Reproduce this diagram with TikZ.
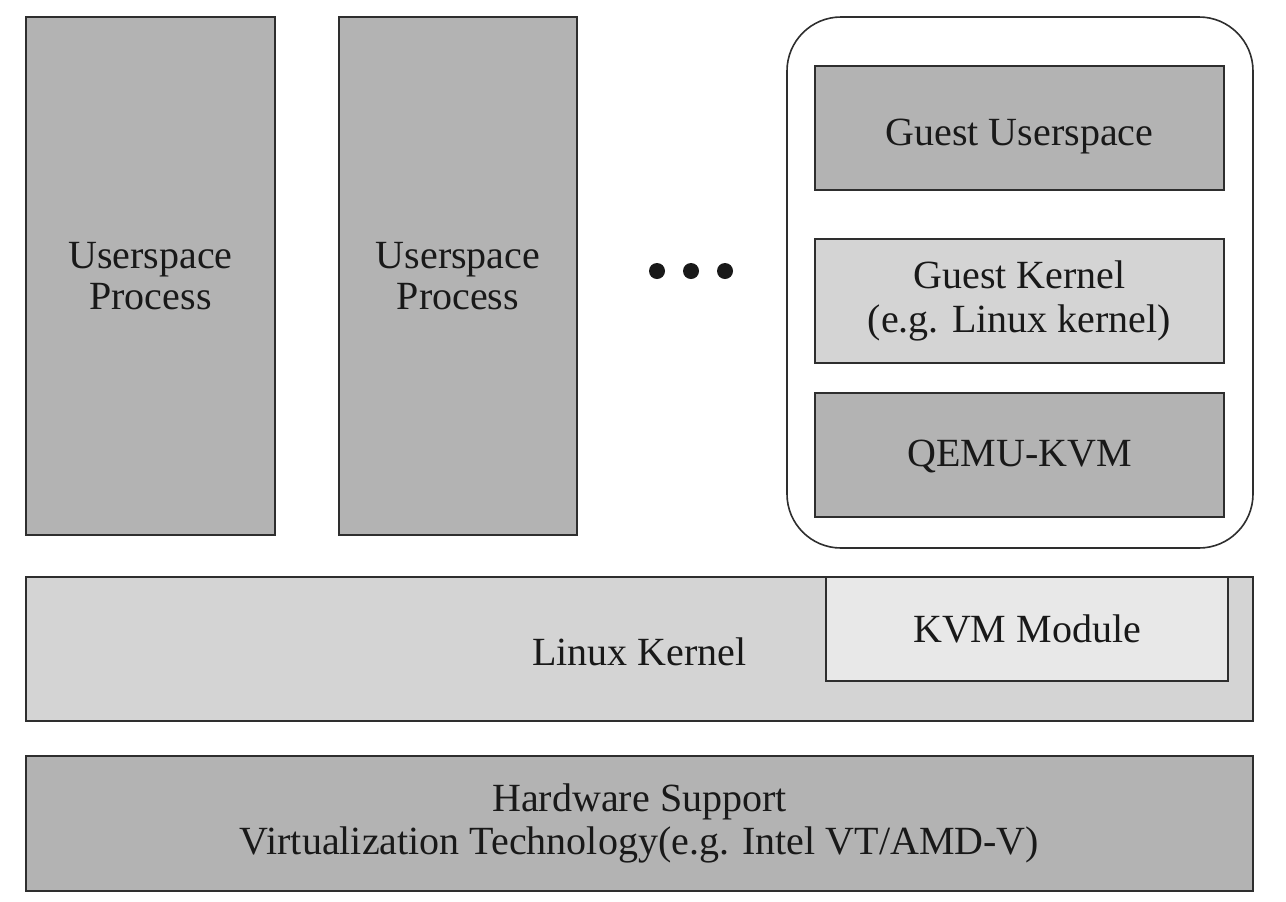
\documentclass[tikz,border=0pt]{standalone}
\usepackage{fontspec}
\setmainfont{Liberation Serif}
\definecolor{darkfill}{HTML}{B3B3B3}
\definecolor{midfill}{HTML}{D4D4D4}
\definecolor{lightfill}{HTML}{E8E8E8}
\definecolor{edge}{HTML}{2E2E2E}
\tikzset{
  box/.style={draw=edge, line width=1pt, inner sep=0pt, align=center,
    font=\fontsize{20}{20.5}\selectfont, text=black!90},
  darkbox/.style={box, fill=darkfill},
  midbox/.style={box, fill=midfill},
  lightbox/.style={box, fill=lightfill},
  vmframe/.style={draw=edge, line width=0.8pt, rounded corners=27pt, inner sep=0pt},
  dotmark/.style={circle, fill=black!90, inner sep=0pt, minimum size=8pt}
}
\begin{document}
\begin{tikzpicture}[x=0.5pt,y=-0.5pt]
\useasboundingbox (0,0) rectangle (1286,901);
\fill[white] (0,0) rectangle (1286,901);
% userspace processes
\node[darkbox, minimum width=124.5pt, minimum height=259pt] (up1) at (150.5,276) {Userspace\\Process};
\node[darkbox, minimum width=119pt, minimum height=259pt] (up2) at (458,276) {Userspace\\Process};
% dots
\node[dotmark] (d1) at (657,271) {};
\node[dotmark] (d2) at (691,271) {};
\node[dotmark] (d3) at (725,271) {};
% VM frame
\node[vmframe, minimum width=233pt, minimum height=265.5pt] (vm) at (1020,282.5) {};
\node[darkbox, minimum width=204.5pt, minimum height=62pt, text height=17.5pt, text depth=0pt] (gus) at (1019.5,128) {Guest Userspace};
\node[midbox, minimum width=204.5pt, minimum height=62pt, font=\fontsize{20}{22}\selectfont] (gk) at (1019.5,301) {Guest Kernel\\(e.g. Linux kernel)};
\node[darkbox, minimum width=204.5pt, minimum height=62pt, text height=15pt, text depth=3.4pt] (qemu) at (1019.5,455) {QEMU-KVM};
% Linux kernel
\node[midbox, minimum width=613.5pt, minimum height=72pt, text height=16.7pt, text depth=0pt] (lk) at (639.5,649) {Linux Kernel};
\node[lightbox, minimum width=201pt, minimum height=52pt] (kvm) at (1027,629) {KVM Module};
% Hardware
\node[darkbox, minimum width=613.5pt, minimum height=67.5pt, font=\fontsize{20}{21.5}\selectfont] (hw) at (639.5,823) {Hardware Support\\Virtualization Technology(e.g. Intel VT/AMD-V)};
\end{tikzpicture}
\end{document}
